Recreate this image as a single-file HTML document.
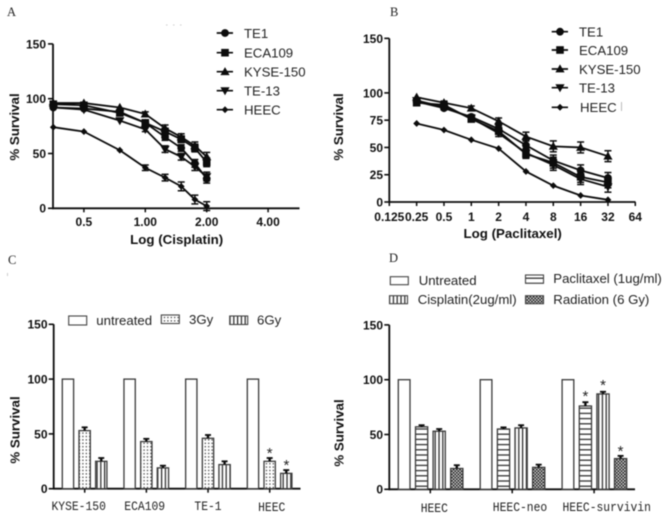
<!DOCTYPE html>
<html>
<head>
<meta charset="utf-8">
<style>
html,body{margin:0;padding:0;background:#fff;}
svg{display:block;filter:blur(0.4px);}
text{font-family:"Liberation Sans",sans-serif;fill:#111;}
.tick{font-size:12px;font-weight:bold;}
.title{font-size:13.3px;font-weight:bold;}
.leg{font-size:13.2px;fill:#222;}
.cat{font-family:"Liberation Mono",monospace;font-size:13px;fill:#222;}
.letter{font-family:"Liberation Serif",serif;font-size:12.5px;fill:#222;}
.star{font-size:15px;fill:#222;}
</style>
</head>
<body>
<svg id="figure" xmlns="http://www.w3.org/2000/svg" width="669" height="520" viewBox="0 0 669 520">
<defs>
<pattern id="dots" width="3.4" height="3.4" patternUnits="userSpaceOnUse"><rect width="3.4" height="3.4" fill="#fff"/><rect x="0.7" y="0.7" width="1.2" height="1.2" fill="#222"/></pattern>
<pattern id="vert" width="3.8" height="4" patternUnits="userSpaceOnUse"><rect width="3.8" height="4" fill="#fff"/><rect x="1.4" width="1.2" height="4" fill="#222"/></pattern>
<pattern id="horiz" width="4" height="5.2" patternUnits="userSpaceOnUse"><rect width="4" height="5.2" fill="#fff"/><rect y="2" width="4" height="1.2" fill="#222"/></pattern>
<pattern id="cross" width="3.2" height="3.2" patternUnits="userSpaceOnUse"><rect width="3.2" height="3.2" fill="#ddd"/><rect width="1.6" height="1.6" fill="#111"/><rect x="1.6" y="1.6" width="1.6" height="1.6" fill="#111"/></pattern>
</defs>
<rect width="669" height="520" fill="#fff"/>

<text class="letter" x="7" y="16">A</text>
<text class="letter" x="390" y="16">B</text>
<text class="letter" x="8" y="264">C</text>
<text class="letter" x="389" y="262">D</text>

<text class="title" x="176.7" y="244" text-anchor="middle">Log (Cisplatin)</text>
<text class="title" x="512.7" y="238" text-anchor="middle">Log (Paclitaxel)</text>
<text class="title" transform="translate(19,127) rotate(-90)" text-anchor="middle">% Survival</text>
<text class="title" transform="translate(343,127) rotate(-90)" text-anchor="middle">% Survival</text>
<text class="title" transform="translate(19.5,430) rotate(-90)" text-anchor="middle">% Survival</text>
<text class="title" transform="translate(343.5,433) rotate(-90)" text-anchor="middle">% Survival</text>

<g>
<text class="leg" x="244" y="38">TE1</text>
<text class="leg" x="244" y="57.5">ECA109</text>
<text class="leg" x="244" y="76.5">KYSE-150</text>
<text class="leg" x="244" y="95.5">TE-13</text>
<text class="leg" x="244" y="114.5">HEEC</text>
</g>
<g>
<text class="leg" x="579" y="36.5">TE1</text>
<text class="leg" x="579" y="55">ECA109</text>
<text class="leg" x="579" y="74">KYSE-150</text>
<text class="leg" x="579" y="92.5">TE-13</text>
<text class="leg" x="580" y="112">HEEC</text>
<rect x="621" y="102" width="1" height="9" fill="#bbb"/>
</g>
<g>
<rect x="68.7" y="316" width="18" height="9" fill="#fff" stroke="#444" stroke-width="1.1"/>
<text class="leg" x="96.3" y="325">untreated</text>
<rect x="161.3" y="315" width="18" height="8.5" fill="url(#dots)" stroke="#444" stroke-width="1.1"/>
<text class="leg" x="189" y="324">3Gy</text>
<rect x="229.7" y="316" width="18" height="8.5" fill="url(#vert)" stroke="#444" stroke-width="1.1"/>
<text class="leg" x="257" y="324.5">6Gy</text>
</g>
<g>
<rect x="390.3" y="276.7" width="18" height="8" fill="#fff" stroke="#444" stroke-width="1.1"/>
<text class="leg" x="418.7" y="285">Untreated</text>
<rect x="525.5" y="275" width="18" height="8.3" fill="url(#horiz)" stroke="#444" stroke-width="1.1"/>
<text class="leg" x="553.3" y="283">Paclitaxel (1ug/ml)</text>
<rect x="389.5" y="295.7" width="18" height="8" fill="url(#vert)" stroke="#444" stroke-width="1.1"/>
<text class="leg" x="417.7" y="304">Cisplatin(2ug/ml)</text>
<rect x="525.5" y="295.7" width="18" height="8" fill="url(#cross)" stroke="#444" stroke-width="1.1"/>
<text class="leg" x="553.3" y="304">Radiation (6 Gy)</text>
</g>
<g fill="#ccc">
<rect x="166" y="24.5" width="1.5" height="1"/>
<rect x="173" y="24.5" width="1.5" height="1"/>
<rect x="180" y="24.5" width="1.5" height="1"/>
<rect x="7" y="273" width="1" height="3"/>
</g>
<g id="marks"></g>
</svg>

<script>
// Panel A data (cisplatin)
const dosesA = [0.354, 0.5, 0.75, 1, 1.25, 1.5, 1.75, 2];
const te1A  = [92, 91, 88, 78, 65, 55, 41, 27];
const ecaA  = [95, 94, 87, 78, 70, 63, 55, 42];
const kyseA = [96, 96, 92, 86, 73, 65, 57, 47];
const te13A = [92, 90, 80, 72, 54, 47, 38, 29];
const heecA = [74, 70, 53, 37, 28, 20, 8, 2];
const errA  = [0.5, 1, 1, 2, 3, 3, 3.5, 4];
const errHeecA = [0.5, 0.5, 1, 2.5, 3, 4, 4, 4];
const xTicksA = [0.5, 1, 2, 4];
const xLabelsA = ["0.5", "1.00", "2.00", "4.00"];
const yTicksA = [0, 50, 100, 150];

// Panel B data (paclitaxel)
const dosesB = [0.25, 0.5, 1, 2, 4, 8, 16, 32];
const te1B  = [92, 86, 78, 67, 52, 38, 29, 22];
const ecaB  = [91, 89, 76, 65, 44, 36, 23, 18];
const kyseB = [96, 91, 86, 74, 60, 51, 50, 42];
const te13B = [93, 87, 77, 63, 45, 34, 21, 14];
const heecB = [72, 66, 57, 49, 28, 15, 6, 2];
const errB  = [1, 1.5, 2, 3, 4, 5, 5, 5];
const errHeecB = [0.5, 0.5, 0.5, 0.5, 1, 1, 1, 1];
const xTicksB = [0.125, 0.25, 0.5, 1, 2, 4, 8, 16, 32, 64];
const xLabelsB = ["0.125", "0.25", "0.5", "1", "2", "4", "8", "16", "32", "64"];
const yTicksB = [0, 25, 50, 75, 100, 150];

const seriesKinds = ["circle", "square", "up", "down", "diamond"];
const seriesNames = ["te1", "eca109", "kyse-150", "te-13", "heec"];

// Panel C data (radiation)
const categoriesC = ["KYSE-150", "ECA109", "TE-1", "HEEC"];
const untreatedC = [100, 100, 100, 100];
const gy3C = [53, 43, 46, 25];
const gy6C = [25, 19, 22, 14];
const gy3ErrC = [3, 2.5, 3, 3];
const gy6ErrC = [3, 2, 3, 3];
const yTicksC = [0, 50, 100, 150];

// Panel D data (HEEC transfectants)
const categoriesD = ["HEEC", "HEEC-neo", "HEEC-survivin"];
const untreatedD = [100, 100, 100];
const paclitaxelD = [57, 55, 76];
const cisplatinD = [53, 56, 87];
const radiationD = [19, 20, 28];
const paclitaxelErrD = [1.5, 1.5, 3.5];
const cisplatinErrD = [2, 2.5, 2];
const radiationErrD = [3, 2.5, 2.5];
const yTicksD = [0, 50, 100, 150];

const INK = "#0c0c0c";
const NS = "http://www.w3.org/2000/svg";
const root = document.getElementById("marks");

function mk(tag, attrs, parent) {
  const el = document.createElementNS(NS, tag);
  for (const k in attrs) el.setAttribute(k, attrs[k]);
  (parent || root).appendChild(el);
  return el;
}
function label(el, name) {
  
  
  return el;
}
function line(x1, y1, x2, y2, w, name, parent) {
  const el = mk("line", {x1: x1, y1: y1, x2: x2, y2: y2, stroke: INK, "stroke-width": w}, parent);
  return label(el, name);
}
function marker(kind, x, y, name, parent) {
  let el;
  if (kind === "circle") {
    el = mk("circle", {cx: x, cy: y, r: 3.9, fill: INK}, parent);
  } else if (kind === "square") {
    el = mk("rect", {x: x - 3.8, y: y - 3.8, width: 7.6, height: 7.6, fill: INK}, parent);
  } else {
    let pts;
    if (kind === "up") pts = [[x, y - 4.6], [x + 4.6, y + 3.4], [x - 4.6, y + 3.4]];
    else if (kind === "down") pts = [[x, y + 4.6], [x + 4.6, y - 3.4], [x - 4.6, y - 3.4]];
    else pts = [[x, y - 3.4], [x + 3.4, y], [x, y + 3.4], [x - 3.4, y]];
    el = mk("polygon", {points: pts.map(p => p.join(",")).join(" "), fill: INK}, parent);
  }
  return label(el, name);
}
function tickText(txt, x, y, anchor, name, cls) {
  const el = mk("text", {x: x, y: y, "text-anchor": anchor, class: cls || "tick"});
  el.textContent = txt;
  return label(el, name);
}
function catText(txt, x, y, name) {
  const el = tickText(txt, x, y, "middle", name, "cat");
  el.setAttribute("textLength", txt.length * 6.8);
  el.setAttribute("lengthAdjust", "spacingAndGlyphs");
  return el;
}
function yAxis(panel, ticks, yOf, axisX, labelX, topTick) {
  const g = label(mk("g", {}), "y-axis-" + panel);
  line(axisX, yOf(topTick), axisX, yOf(0) + 0.8, 1.8, "y-axis-line-" + panel, g);
  ticks.forEach(t => {
    line(axisX - 5, yOf(t), axisX, yOf(t), 1.6, "y-tick-" + panel + "-" + t, g);
    tickText(String(t), labelX, yOf(t) + 4.4, "end", "y-tick-label-" + panel + "-" + t);
  });
}
function drawLines(panel, doses, xOf, yOf, all, errs) {
  all.forEach((vals, s) => {
    const g = label(mk("g", {}), "series-" + panel + "-" + seriesNames[s]);
    const pl = mk("polyline", {
      points: vals.map((v, i) => xOf(doses[i]) + "," + yOf(v)).join(" "),
      fill: "none", stroke: INK, "stroke-width": 1.8
    }, g);
    label(pl, "line-" + panel + "-" + seriesNames[s]);
    vals.forEach((v, i) => {
      const x = xOf(doses[i]);
      const e = errs[s][i];
      if (e > 1) {
        line(x, yOf(v - e), x, yOf(v + e), 1.4, "error-bar-" + panel + "-" + seriesNames[s] + "-" + i, g);
        line(x - 3.5, yOf(v + e), x + 3.5, yOf(v + e), 1.5, "error-cap-top-" + panel + "-" + seriesNames[s] + "-" + i, g);
        line(x - 3.5, yOf(v - e), x + 3.5, yOf(v - e), 1.5, "error-cap-bottom-" + panel + "-" + seriesNames[s] + "-" + i, g);
      }
      marker(seriesKinds[s], x, yOf(v), "point-" + panel + "-" + seriesNames[s] + "-" + i, g);
    });
  });
}
function bar(panel, x, w, yOf, v, err, fill, name) {
  const g = label(mk("g", {}), "bar-group-" + panel + "-" + name);
  const r = mk("rect", {x: x, y: yOf(v), width: w, height: yOf(0) - yOf(v), fill: fill, stroke: "#3a3a3a", "stroke-width": 1.3}, g);
  label(r, "bar-" + panel + "-" + name);
  if (err > 0) {
    const cx = x + w / 2;
    line(cx, yOf(v), cx, yOf(v + err), 2.4, "bar-error-" + panel + "-" + name, g);
    line(cx - 3, yOf(v + err), cx + 3, yOf(v + err), 1.8, "bar-error-cap-" + panel + "-" + name, g);
  }
}
function star(x, y, name) {
  const el = mk("text", {x: x, y: y, "text-anchor": "middle", class: "star"});
  el.textContent = "*";
  return label(el, name);
}

// Axis functions
const xA = v => 145.3 + 61.4 * Math.log2(v);
const yA = v => 208.3 - v * 1.096;
const xB = v => 471.3 + 27.33 * Math.log2(v);
const yB = v => 202 - v * 1.091;
const yC = v => 488.7 - v * 1.096;
const yD = v => 489.3 - v * 1.096;

// Panel A
yAxis("a", yTicksA, yA, 53, 46, 150);
line(52, yA(0), 299.5, yA(0), 1.8, "x-axis-line-a");
xTicksA.forEach((t, i) => {
  line(xA(t), yA(0), xA(t), yA(0) + 4, 1.5, "x-tick-a-" + i);
  tickText(xLabelsA[i], xA(t), 226, "middle", "x-tick-label-a-" + i);
});
drawLines("a", dosesA, xA, yA, [te1A, ecaA, kyseA, te13A, heecA], [errA, errA, errA, errA, errHeecA]);

// Panel B
yAxis("b", yTicksB, yB, 389.3, 383, 150);
line(388.5, yB(0), 635.5, yB(0), 1.8, "x-axis-line-b");
xTicksB.forEach((t, i) => {
  line(xB(t), yB(0), xB(t), yB(0) + 4, 1.5, "x-tick-b-" + i);
  tickText(xLabelsB[i], xB(t), 221, "middle", "x-tick-label-b-" + i);
});
drawLines("b", dosesB, xB, yB, [te1B, ecaB, kyseB, te13B, heecB], [errB, errB, errB, errB, errHeecB]);

// Legend lines share the series marker shapes
[33, 52.7, 71.7, 90.7, 109.7].forEach((y, i) => {
  line(216.7, y, 233, y, 1.7, "legend-a-line-" + seriesNames[i]);
  marker(seriesKinds[i], 225, y, "legend-a-marker-" + seriesNames[i]);
});
[31.7, 50, 69, 87.7, 107.3].forEach((y, i) => {
  line(551.7, y, 568, y, 1.7, "legend-b-line-" + seriesNames[i]);
  marker(seriesKinds[i], 560, y, "legend-b-marker-" + seriesNames[i]);
});

// Panel C
yAxis("c", yTicksC, yC, 53.7, 47.5, 150);
line(53, yC(0), 300.5, yC(0), 1.8, "x-axis-line-c");
const catOffsetC = [78.7, 144.7, 208, 271.7];
categoriesC.forEach((c, i) => {
  const x0 = 62.3 + 61.67 * i;
  bar("c", x0, 11.3, yC, untreatedC[i], 0, "#fff", c + "-untreated");
  bar("c", x0 + 16.7, 11.3, yC, gy3C[i], gy3ErrC[i], "url(#dots)", c + "-3gy");
  bar("c", x0 + 33.3, 11.3, yC, gy6C[i], gy6ErrC[i], "url(#vert)", c + "-6gy");
  const tx = x0 + 22.4;
  line(tx, yC(0), tx, yC(0) + 4, 1.5, "x-tick-c-" + i);
  catText(c, catOffsetC[i], i === 3 ? 511 : 510, "category-label-c-" + i);
});
const heecBarX = 62.3 + 61.67 * 3 + 22.4;
star(heecBarX, yC(gy3C[3] + gy3ErrC[3]), "significance-star-c-3gy");
star(heecBarX + 16.7, yC(gy6C[3] + gy6ErrC[3]), "significance-star-c-6gy");

// Panel D
yAxis("d", yTicksD, yD, 389.3, 383, 150);
line(388.5, yD(0), 635, yD(0), 1.8, "x-axis-line-d");
const catCenterD = [434.3, 520, 606.7];
categoriesD.forEach((c, i) => {
  const x0 = 398.3 + 81.9 * i;
  bar("d", x0, 11.7, yD, untreatedD[i], 0, "#fff", c + "-untreated");
  bar("d", x0 + 17.2, 12.2, yD, paclitaxelD[i], paclitaxelErrD[i], "url(#horiz)", c + "-paclitaxel");
  bar("d", x0 + 34.8, 12.2, yD, cisplatinD[i], cisplatinErrD[i], "url(#vert)", c + "-cisplatin");
  bar("d", x0 + 52.4, 12.2, yD, radiationD[i], radiationErrD[i], "url(#cross)", c + "-radiation");
  const tx = x0 + 32;
  line(tx, yD(0), tx, yD(0) + 4, 1.5, "x-tick-d-" + i);
  catText(c, catCenterD[i], i === 0 ? 512 : 511, "category-label-d-" + i);
});
const survivinX = 398.3 + 81.9 * 2;
star(survivinX + 23.3, yD(paclitaxelD[2] + paclitaxelErrD[2]) - 1, "significance-star-d-paclitaxel");
star(survivinX + 40.9, yD(cisplatinD[2] + cisplatinErrD[2]) - 2, "significance-star-d-cisplatin");
star(survivinX + 58.5, yD(radiationD[2] + radiationErrD[2]), "significance-star-d-radiation");
</script>
</body>
</html>
